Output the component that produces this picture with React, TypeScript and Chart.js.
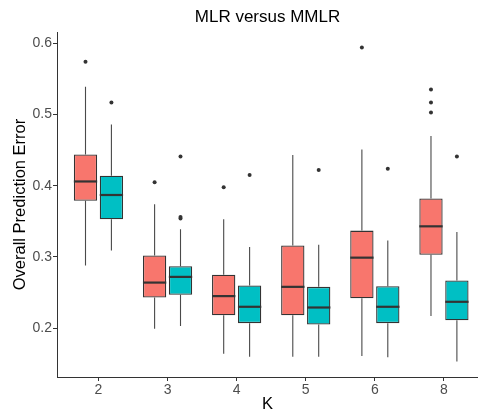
import React, { useEffect, useRef } from "react";
import { Chart, registerables } from "chart.js";

Chart.register(...registerables);

const categories = ["2", "3", "4", "5", "6", "8"];

const mlrMin = [0.288, 0.199, 0.164, 0.16, 0.161, 0.217];
const mlrQ1 = [0.379, 0.243, 0.218, 0.218, 0.242, 0.303];
const mlrMedian = [0.406, 0.264, 0.245, 0.258, 0.299, 0.343];
const mlrQ3 = [0.444, 0.302, 0.275, 0.316, 0.337, 0.382];
const mlrMax = [0.539, 0.374, 0.353, 0.443, 0.451, 0.47];
const mlrOutliers = [[0.574], [0.405], [0.398], [], [0.594], [0.535, 0.517, 0.503]];

const mmlrMin = [0.309, 0.203, 0.16, 0.16, 0.159, 0.153];
const mmlrQ1 = [0.353, 0.247, 0.207, 0.205, 0.207, 0.211];
const mmlrMedian = [0.387, 0.272, 0.23, 0.229, 0.23, 0.237];
const mmlrQ3 = [0.414, 0.287, 0.26, 0.258, 0.259, 0.267];
const mmlrMax = [0.486, 0.339, 0.314, 0.317, 0.323, 0.335];
const mmlrOutliers = [[0.517], [0.441, 0.356, 0.354], [0.415], [0.422], [0.424], [0.441]];

const yTicks = [0.2, 0.3, 0.4, 0.5, 0.6];

const series = [
  { name: "MLR", color: "#F8766D", min: mlrMin, q1: mlrQ1, med: mlrMedian, q3: mlrQ3, max: mlrMax, out: mlrOutliers },
  { name: "MMLR", color: "#00BFC4", min: mmlrMin, q1: mmlrQ1, med: mmlrMedian, q3: mmlrQ3, max: mmlrMax, out: mmlrOutliers },
];

const FONT = "'Liberation Sans', Arial, Helvetica, sans-serif";
const INK = "#333333";

const boxPlugin = {
  id: "boxExtras",
  beforeDatasetsDraw(chart: any) {
    const ctx = chart.ctx;
    const y = chart.scales.y;
    ctx.save();
    ctx.strokeStyle = "#4a4a4a";
    ctx.lineWidth = 1.1;
    series.forEach((s, di) => {
      const meta = chart.getDatasetMeta(di);
      meta.data.forEach((el: any, i: number) => {
        const x = el.x;
        ctx.beginPath();
        ctx.moveTo(x, y.getPixelForValue(s.q3[i]));
        ctx.lineTo(x, y.getPixelForValue(s.max[i]));
        ctx.moveTo(x, y.getPixelForValue(s.q1[i]));
        ctx.lineTo(x, y.getPixelForValue(s.min[i]));
        ctx.stroke();
      });
    });
    ctx.restore();
  },
  afterDatasetsDraw(chart: any) {
    const ctx = chart.ctx;
    const y = chart.scales.y;
    ctx.save();
    series.forEach((s, di) => {
      const meta = chart.getDatasetMeta(di);
      meta.data.forEach((el: any, i: number) => {
        const x = el.x;
        const w = el.width;
        const my = y.getPixelForValue(s.med[i]);
        ctx.strokeStyle = INK;
        ctx.lineWidth = 2.2;
        ctx.beginPath();
        ctx.moveTo(x - w / 2, my);
        ctx.lineTo(x + w / 2, my);
        ctx.stroke();
        ctx.fillStyle = INK;
        s.out[i].forEach((v) => {
          ctx.beginPath();
          ctx.arc(x, y.getPixelForValue(v), 2, 0, Math.PI * 2);
          ctx.fill();
        });
      });
    });
    ctx.restore();
  },
  afterDraw(chart: any) {
    const ctx = chart.ctx;
    const a = chart.chartArea;
    ctx.save();
    ctx.fillStyle = "#000";
    ctx.font = `17px ${FONT}`;
    ctx.textAlign = "center";
    ctx.textBaseline = "middle";
    ctx.fillText("MLR versus MMLR", (a.left + a.right) / 2, 17.5);
    ctx.restore();
  },
};

export default function App() {
  const ref = useRef<HTMLCanvasElement | null>(null);

  useEffect(() => {
    if (!ref.current) return;
    const chart = new Chart(ref.current, {
      type: "bar",
      data: {
        datasets: series.map((s) => ({
          label: s.name,
          data: categories.map((_, i) => ({ x: i + 1, y: [s.q1[i], s.q3[i]] })) as any,
          backgroundColor: s.color,
          borderColor: INK,
          borderWidth: 1.3,
          borderSkipped: false,
          categoryPercentage: 0.75,
          barPercentage: 0.9,
        })),
      },
      options: {
        responsive: false,
        animation: false,
        layout: { padding: { top: 32, left: 0, right: 0, bottom: 0 } },
        plugins: { legend: { display: false }, tooltip: { enabled: false }, title: { display: false } },
        scales: {
          x: {
            type: "linear",
            offset: false,
            bounds: "data",
            min: 0.4,
            max: 6.493,
            afterBuildTicks: (s: any) => {
              s.ticks = categories.map((_, i) => ({ value: i + 1 }));
            },
            afterFit: (s: any) => {
              s.height = 38;
            },
            ticks: {
              callback: (v: any) => categories[Math.round(Number(v)) - 1] ?? "",
              color: "#4D4D4D",
              font: { family: FONT, size: 14 },
              padding: 1,
              autoSkip: false,
              maxRotation: 0,
            },
            grid: { display: true, offset: false, drawOnChartArea: false, drawTicks: true, tickLength: 4, color: INK },
            border: { display: true, color: INK, width: 1 },
            title: { display: true, text: "K", color: "#000", font: { family: FONT, size: 16.5 }, padding: { top: 0, bottom: 1 } },
          },
          y: {
            type: "linear",
            min: 0.1314,
            max: 0.6159,
            afterBuildTicks: (s: any) => {
              s.ticks = yTicks.map((v) => ({ value: v }));
            },
            afterFit: (s: any) => {
              s.width = 57;
            },
            ticks: {
              callback: (v: any) => Number(v).toFixed(1),
              color: "#4D4D4D",
              font: { family: FONT, size: 14 },
              padding: 1,
            },
            grid: { display: true, drawOnChartArea: false, drawTicks: true, tickLength: 4, color: INK },
            border: { display: true, color: INK, width: 1 },
            title: {
              display: true,
              text: "Overall Prediction Error",
              color: "#000",
              font: { family: FONT, size: 16.5 },
              padding: { top: 11, bottom: 0 },
            },
          },
        },
      },
      plugins: [boxPlugin],
    });
    return () => chart.destroy();
  }, []);

  return (
    <div style={{ position: "fixed", left: 0, top: 0, width: 478, height: 415, background: "#fff" }}>
      <canvas ref={ref} width={478} height={415} style={{ display: "block", width: 478, height: 415 }} />
    </div>
  );
}
